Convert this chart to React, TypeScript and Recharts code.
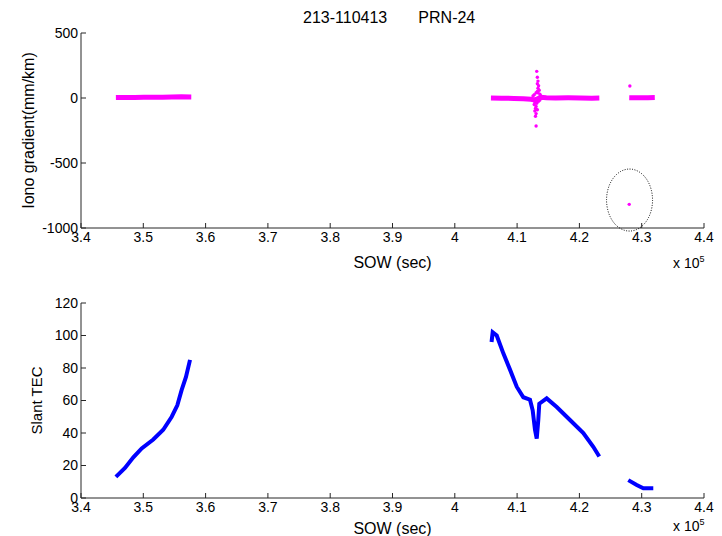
import { ComposedChart, Label, Line, ReferenceDot, Scatter, XAxis, YAxis } from "recharts";

const sowTicks = [340000, 350000, 360000, 370000, 380000, 390000, 400000, 410000, 420000, 430000, 440000];
const gradTicks = [-1000, -500, 0, 500];
const tecTicks = [0, 20, 40, 60, 80, 100, 120];

// iono gradient (mm/km), dense bands drawn as thick lines
const gradBand1 = [
  { sow: 345600, grad: 3 }, { sow: 347100, grad: 4 }, { sow: 348600, grad: 4 },
  { sow: 350100, grad: 5 }, { sow: 351600, grad: 5 }, { sow: 353100, grad: 6 },
  { sow: 354600, grad: 7 }, { sow: 356100, grad: 9 }, { sow: 357700, grad: 8 },
];
const gradBand2 = [
  { sow: 405800, grad: 0 }, { sow: 407500, grad: -1 }, { sow: 409500, grad: -3 },
  { sow: 411000, grad: -6 }, { sow: 412200, grad: -10 }, { sow: 412800, grad: -15 },
  { sow: 413200, grad: -8 }, { sow: 413800, grad: 5 }, { sow: 414700, grad: 2 },
  { sow: 416200, grad: 0 }, { sow: 418200, grad: 1 }, { sow: 420200, grad: 0 },
  { sow: 422000, grad: -1 }, { sow: 423200, grad: 0 },
];
const gradBand3 = [
  { sow: 428000, grad: 2 }, { sow: 429500, grad: 1 }, { sow: 431000, grad: 2 }, { sow: 432100, grad: 3 },
];
// scattered points around the disturbance and the outliers
const gradPoints = [
  { sow: 413150, grad: 205 }, { sow: 413250, grad: 160 }, { sow: 413350, grad: 130 },
  { sow: 413250, grad: 110 }, { sow: 413450, grad: 95 }, { sow: 413350, grad: 75 },
  { sow: 413550, grad: 60 }, { sow: 413250, grad: 50 }, { sow: 413050, grad: 40 },
  { sow: 413650, grad: 30 }, { sow: 412750, grad: 25 }, { sow: 413750, grad: 20 },
  { sow: 412550, grad: 15 }, { sow: 413350, grad: 40 }, { sow: 412450, grad: -10 },
  { sow: 412950, grad: -20 }, { sow: 413450, grad: -25 }, { sow: 412850, grad: -30 },
  { sow: 413150, grad: -40 }, { sow: 412750, grad: -50 }, { sow: 413050, grad: -65 },
  { sow: 412950, grad: -80 }, { sow: 413250, grad: -90 }, { sow: 412850, grad: -100 },
  { sow: 413050, grad: -120 }, { sow: 412950, grad: -140 }, { sow: 413050, grad: -215 },
  { sow: 413650, grad: -15 }, { sow: 428100, grad: 92 }, { sow: 428000, grad: -818 },
];

// slant TEC
const tecArc1 = [
  { sow: 345600, tec: 13 }, { sow: 347060, tec: 18.5 }, { sow: 348400, tec: 25 },
  { sow: 349740, tec: 30.5 }, { sow: 351600, tec: 36 }, { sow: 353200, tec: 42 },
  { sow: 354560, tec: 50 }, { sow: 355460, tec: 57 }, { sow: 356160, tec: 66.5 },
  { sow: 356850, tec: 74.5 }, { sow: 357500, tec: 85 },
];
const tecArc2 = [
  { sow: 405900, tec: 96 }, { sow: 406080, tec: 102 }, { sow: 406730, tec: 100 },
  { sow: 407790, tec: 89 }, { sow: 408860, tec: 79 }, { sow: 409940, tec: 68.5 },
  { sow: 411000, tec: 62 }, { sow: 412070, tec: 60.5 }, { sow: 412500, tec: 54 },
  { sow: 412870, tec: 42 }, { sow: 413150, tec: 36.5 }, { sow: 413400, tec: 48 },
  { sow: 413560, tec: 58 }, { sow: 414750, tec: 61.3 }, { sow: 416360, tec: 56 },
  { sow: 418490, tec: 48 }, { sow: 420630, tec: 40 }, { sow: 422230, tec: 31.5 },
  { sow: 423190, tec: 25.5 },
];
const tecArc3 = [
  { sow: 427850, tec: 11 }, { sow: 429200, tec: 8 }, { sow: 430260, tec: 6 }, { sow: 431860, tec: 6 },
];

const font = "'Liberation Sans', Arial, sans-serif";
const tickStyle = { fill: "#000", fontSize: 14, fontFamily: font };
const axisColor = "#262626";
const fmtSow = (v: number) => String(Math.round(v / 1000) / 100);
const blank = () => "";

function Dot(props: any) {
  return <circle cx={props.cx} cy={props.cy} r={1.7} fill="#ff00ff" />;
}

function Ellipse(props: any) {
  return (
    <ellipse cx={props.cx} cy={props.cy} rx={23} ry={31} fill="none" stroke="#000" strokeWidth={1} strokeDasharray="1 1.5" />
  );
}

function Exp({ top }: { top: number }) {
  return (
    <div style={{ position: "absolute", left: 673, top, fontFamily: font, fontSize: 14, lineHeight: "16px", whiteSpace: "pre" }}>
      x 10<sup style={{ fontSize: 9, lineHeight: 0 }}>5</sup>
    </div>
  );
}

export default function App() {
  return (
    <div style={{ position: "absolute", left: 0, top: 0, width: 722, height: 536, background: "#fff", overflow: "hidden" }}>
      <div style={{ position: "absolute", left: 303, top: 9, fontFamily: font, fontSize: 16, whiteSpace: "pre" }}>
        {"213-110413       PRN-24"}
      </div>
      <div style={{ position: "absolute", left: 0, top: 0 }}>
        <ComposedChart width={722} height={276} margin={{ top: 33, right: 18, bottom: 0, left: 21 }}>
          <XAxis dataKey="sow" type="number" domain={[340000, 440000]} ticks={sowTicks} tickFormatter={fmtSow}
            tick={tickStyle} tickSize={-5} tickMargin={9} stroke={axisColor} height={48} interval={0}>
            <Label value="SOW (sec)" position="insideBottom" offset={8} style={{ fontFamily: font, fontSize: 16, fill: "#000" }} />
          </XAxis>
          <XAxis xAxisId="top" orientation="top" dataKey="sow" type="number" domain={[340000, 440000]} ticks={sowTicks}
            tickFormatter={blank} tickSize={-5} stroke={axisColor} height={0} interval={0} />
          <YAxis dataKey="grad" type="number" domain={[-1000, 500]} ticks={gradTicks} tick={tickStyle}
            tickSize={-5} tickMargin={8} stroke={axisColor} width={60} interval={0}>
            <Label value="Iono gradient(mm/km)" angle={-90} position="center" dx={-23} style={{ fontFamily: font, fontSize: 16, fill: "#000" }} />
          </YAxis>
          <YAxis yAxisId="right" orientation="right" type="number" domain={[-1000, 500]} ticks={gradTicks}
            tickFormatter={blank} tickSize={-5} stroke={axisColor} width={0} interval={0} />
          <Line data={gradBand1} dataKey="grad" stroke="#ff00ff" strokeWidth={5} dot={false} isAnimationActive={false} />
          <Line data={gradBand2} dataKey="grad" stroke="#ff00ff" strokeWidth={5} dot={false} isAnimationActive={false} />
          <Line data={gradBand3} dataKey="grad" stroke="#ff00ff" strokeWidth={5} dot={false} isAnimationActive={false} />
          <Scatter data={gradPoints} dataKey="grad" shape={<Dot />} isAnimationActive={false} />
          <ReferenceDot x={428050} y={-785} shape={<Ellipse />} />
        </ComposedChart>
      </div>
      <Exp top={255} />
      <div style={{ position: "absolute", left: 0, top: 276 }}>
        <ComposedChart width={722} height={260} margin={{ top: 27, right: 18, bottom: 0, left: 21 }}>
          <XAxis dataKey="sow" type="number" domain={[340000, 440000]} ticks={sowTicks} tickFormatter={fmtSow}
            tick={tickStyle} tickSize={-5} tickMargin={9} stroke={axisColor} height={38} interval={0}>
            <Label value="SOW (sec)" position="insideBottom" offset={2} style={{ fontFamily: font, fontSize: 16, fill: "#000" }} />
          </XAxis>
          <XAxis xAxisId="top" orientation="top" dataKey="sow" type="number" domain={[340000, 440000]} ticks={sowTicks}
            tickFormatter={blank} tickSize={-5} stroke={axisColor} height={0} interval={0} />
          <YAxis dataKey="tec" type="number" domain={[0, 120]} ticks={tecTicks} tick={tickStyle}
            tickSize={-5} tickMargin={8} stroke={axisColor} width={60} interval={0}>
            <Label value="Slant TEC" angle={-90} position="center" dx={-14} style={{ fontFamily: font, fontSize: 15, fill: "#000" }} />
          </YAxis>
          <YAxis yAxisId="right" orientation="right" type="number" domain={[0, 120]} ticks={tecTicks}
            tickFormatter={blank} tickSize={-5} stroke={axisColor} width={0} interval={0} />
          <Line data={tecArc1} dataKey="tec" stroke="#0000ff" strokeWidth={4} dot={false} isAnimationActive={false} />
          <Line data={tecArc2} dataKey="tec" stroke="#0000ff" strokeWidth={4} dot={false} isAnimationActive={false} />
          <Line data={tecArc3} dataKey="tec" stroke="#0000ff" strokeWidth={4} dot={false} isAnimationActive={false} />
        </ComposedChart>
      </div>
      <Exp top={518} />
    </div>
  );
}
